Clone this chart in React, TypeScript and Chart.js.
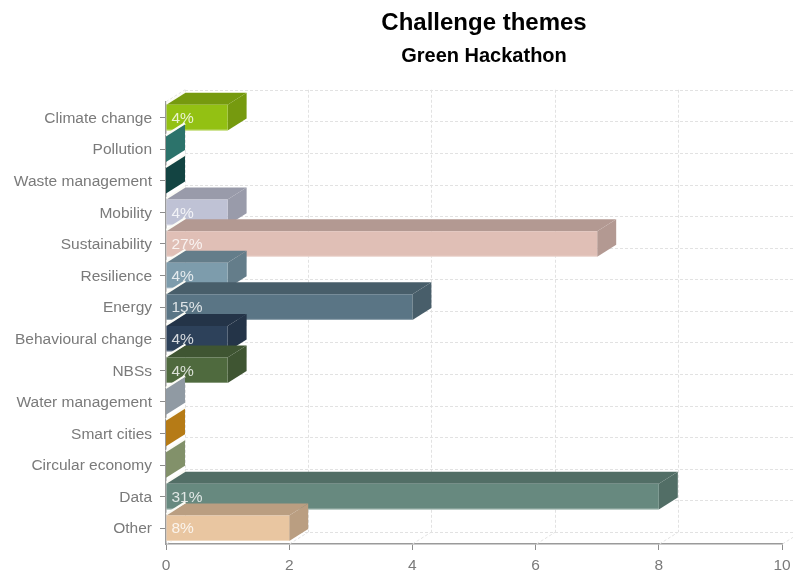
import React, { useEffect, useRef } from "react";
import { Chart, registerables } from "chart.js";

Chart.register(...registerables);

const FONT = "'Liberation Sans', Arial, sans-serif";

const themes = [
  "Climate change", "Pollution", "Waste management", "Mobility", "Sustainability",
  "Resilience", "Energy", "Behavioural change", "NBSs", "Water management",
  "Smart cities", "Circular economy", "Data", "Other",
];
const counts = [1, 0, 0, 1, 7, 1, 4, 1, 1, 0, 0, 0, 8, 2];
const shares = ["4%", "", "", "4%", "27%", "4%", "15%", "4%", "4%", "", "", "", "31%", "8%"];
const frontColors = [
  "#93c113", "#379086", "#185552", "#bfc2d5", "#e0bfb6", "#7d9cac", "#5a7585",
  "#2d415a", "#4f6a3e", "#b4c0cc", "#e39a1c", "#a3b584", "#67897f", "#e9c6a1",
];
const axisTicks = [0, 2, 4, 6, 8, 10];

const DEPTH_X = 19;
const DEPTH_Y = 12;

// Multiplies each channel of a #rrggbb colour to get the shaded faces of a bar.
function shade(hex: string, factor: number): string {
  const n = parseInt(hex.slice(1), 16);
  const c = [(n >> 16) & 255, (n >> 8) & 255, n & 255].map((v) => Math.round(v * factor));
  return `rgb(${c[0]},${c[1]},${c[2]})`;
}

function polygon(ctx: CanvasRenderingContext2D, pts: number[][], fill: string) {
  ctx.beginPath();
  pts.forEach(([x, y], i) => (i ? ctx.lineTo(x, y) : ctx.moveTo(x, y)));
  ctx.closePath();
  ctx.fillStyle = fill;
  ctx.fill();
}

// Dashed back wall and floor behind the bars.
const wallPlugin = {
  id: "wall",
  beforeDatasetsDraw(chart: any) {
    const { ctx, chartArea: a, scales } = chart;
    ctx.save();
    ctx.strokeStyle = "#e2e2e2";
    ctx.lineWidth = 1;
    ctx.setLineDash([3, 2]);
    const line = (x1: number, y1: number, x2: number, y2: number) => {
      ctx.beginPath();
      ctx.moveTo(x1, y1);
      ctx.lineTo(x2, y2);
      ctx.stroke();
    };
    axisTicks.forEach((v) => {
      const x = Math.round(scales.x.getPixelForValue(v)) + 0.5;
      line(x + DEPTH_X, a.top - DEPTH_Y, x + DEPTH_X, a.bottom - DEPTH_Y);
      line(x, a.bottom, x + DEPTH_X, a.bottom - DEPTH_Y);
    });
    const band = a.height / themes.length;
    themes.forEach((_, i) => {
      const y = Math.round(a.top + band * i - DEPTH_Y) + 0.5;
      line(a.left + DEPTH_X, y, chart.width, y);
    });
    line(a.left + DEPTH_X, a.bottom - DEPTH_Y + 0.5, chart.width, a.bottom - DEPTH_Y + 0.5);
    line(a.left, a.top, a.left + DEPTH_X, a.top - DEPTH_Y);
    ctx.restore();
  },
};

// Extrudes each bar and paints them from top to bottom so that lower bars overlap upper ones.
const extrudePlugin = {
  id: "extrude",
  beforeDatasetDraw(chart: any, args: any) {
    const { ctx } = chart;
    const bars = args.meta.data;
    ctx.save();
    bars.forEach((bar: any, i: number) => {
      const { x, y, base, height } = bar.getProps(["x", "y", "base", "height"], true);
      const top = y - height / 2;
      const bottom = y + height / 2;
      const color = frontColors[i];
      // Pale edge where the bar leaves the axis wall.
      ctx.strokeStyle = "#fbfbf5";
      ctx.lineWidth = 2.5;
      ctx.beginPath();
      ctx.moveTo(base, top - 1);
      ctx.lineTo(base + DEPTH_X, top - DEPTH_Y - 1);
      ctx.stroke();
      polygon(ctx, [[x, top], [x + DEPTH_X, top - DEPTH_Y], [x + DEPTH_X, bottom - DEPTH_Y], [x, bottom]], shade(color, 0.8));
      if (x > base) {
        polygon(ctx, [[base, top], [x, top], [x + DEPTH_X, top - DEPTH_Y], [base + DEPTH_X, top - DEPTH_Y]], shade(color, 0.8));
      }
      bar.draw(ctx);
      if (x > base) {
        ctx.fillStyle = "rgba(255,255,255,0.35)";
        ctx.fillRect(base, bottom - 1, x - base, 1);
      }
      if (shares[i]) {
        ctx.font = `15.5px ${FONT}`;
        ctx.fillStyle = "rgba(255,255,255,0.8)";
        ctx.textAlign = "left";
        ctx.textBaseline = "middle";
        ctx.fillText(shares[i], base + 5, y + 1);
      }
    });
    ctx.restore();
    return false;
  },
};

// Centres the title block over the right-hand part of the canvas.
const titleShiftPlugin = {
  id: "titleShift",
  afterLayout(chart: any) {
    chart.boxes.forEach((b: any) => {
      if (!b.id && b.options && b.options.text !== undefined) b.left = 186;
    });
  },
};

export default function App() {
  const ref = useRef<HTMLCanvasElement>(null);

  useEffect(() => {
    const chart = new Chart(ref.current!, {
      type: "bar",
      data: {
        labels: themes,
        datasets: [
          {
            data: counts,
            backgroundColor: frontColors,
            borderSkipped: false,
            borderWidth: 0,
            barPercentage: 0.81,
            categoryPercentage: 1,
          },
        ],
      },
      options: {
        indexAxis: "y",
        responsive: false,
        animation: false,
        layout: { padding: { right: 11, bottom: 0 } },
        plugins: {
          legend: { display: false },
          tooltip: { enabled: false },
          title: {
            display: true,
            text: "Challenge themes",
            color: "#000",
            font: { family: FONT, size: 24, weight: "bold" },
            padding: { top: 9, bottom: 7 },
          },
          subtitle: {
            display: true,
            text: "Green Hackathon",
            color: "#000",
            font: { family: FONT, size: 20, weight: "bold" },
            padding: { top: 0, bottom: 33 },
          },
        },
        scales: {
          x: {
            min: 0,
            max: 10,
            afterFit: (s: any) => {
              s.height = 30;
              s.paddingLeft = 0;
              s.paddingRight = 0;
            },
            afterBuildTicks: (s: any) => {
              s.ticks = axisTicks.map((value) => ({ value }));
            },
            grid: { drawOnChartArea: false, color: "#8c8c8c", tickLength: 6 },
            border: { color: "#9a9a9a", width: 1.5 },
            ticks: { color: "#7a7a7a", font: { family: FONT, size: 15.5 }, padding: 6, maxRotation: 0 },
          },
          y: {
            afterFit: (s: any) => {
              s.width = 166;
            },
            grid: { drawOnChartArea: false, offset: false, color: "#8c8c8c", tickLength: 6 },
            border: { color: "#9a9a9a", width: 1.5 },
            ticks: { color: "#7a7a7a", font: { family: FONT, size: 15.5 }, padding: 8, autoSkip: false, labelOffset: 1 },
          },
        },
      },
      plugins: [wallPlugin, extrudePlugin, titleShiftPlugin],
    } as any);
    return () => chart.destroy();
  }, []);

  return (
    <div style={{ position: "fixed", left: 0, top: 0, width: 793, height: 574, background: "#fff" }}>
      <canvas ref={ref} width={793} height={574} style={{ display: "block" }} />
    </div>
  );
}
